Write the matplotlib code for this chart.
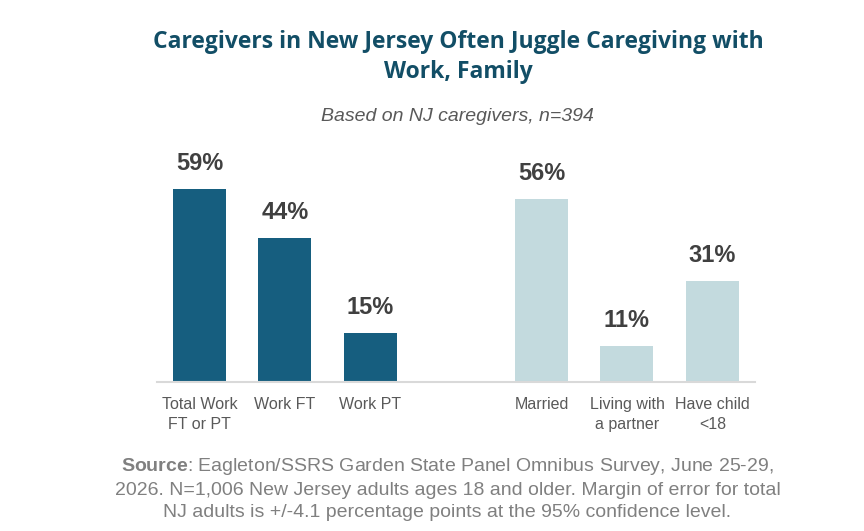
import matplotlib.pyplot as plt

# data
categories = ['Total Work\nFT or PT', 'Work FT', 'Work PT',
              'Married', 'Living with\na partner', 'Have child\n<18']
values = [59, 44, 15, 56, 11, 31]
positions = [0, 1, 2, 4, 5, 6]   # blank slot between the two groups
colors = ['#165e7f'] * 3 + ['#c3dade'] * 3

plt.rcParams['font.family'] = ['Liberation Sans', 'DejaVu Sans']
plt.rcParams['mathtext.fontset'] = 'custom'
plt.rcParams['mathtext.bf'] = 'Liberation Sans:bold'
plt.rcParams['mathtext.rm'] = 'Liberation Sans'

fig = plt.figure(figsize=(8.64, 5.31), dpi=100)
ax = fig.add_axes([0.1814, 0.2806, 0.6927, 0.4311])

ax.bar(positions, values, width=0.62, color=colors)
for x, v in zip(positions, values):
    ax.annotate(f'{v}%', (x, v), xytext=(0, 10), textcoords='offset points',
                ha='center', va='bottom', fontsize=17, fontweight='bold',
                color='#404040')

ax.set_xlim(-0.5, 6.5)
ax.set_ylim(0, 70)
ax.set_xticks(positions)
ax.set_xticklabels(categories, fontsize=11.5, color='#595959', linespacing=1.4)
ax.tick_params(axis='x', length=0, pad=11)
ax.set_yticks([])
for s in ['top', 'right', 'left']:
    ax.spines[s].set_visible(False)
ax.spines['bottom'].set_color('#d9d9d9')
ax.spines['bottom'].set_linewidth(1.5)

fig.text(0.530, 0.893, 'Caregivers in New Jersey Often Juggle Caregiving with\nWork, Family',
         ha='center', va='center', fontsize=16.5, fontweight='bold',
         color='#124e66', linespacing=1.3, family=['Open Sans', 'DejaVu Sans'])
fig.text(0.530, 0.780, 'Based on NJ caregivers, n=394', ha='center', va='center',
         fontsize=14, style='italic', color='#595959')

fig.text(0.518, 0.080,
         r'$\bf{Source}$: Eagleton/SSRS Garden State Panel Omnibus Survey, June 25-29,' '\n'
         '2026. N=1,006 New Jersey adults ages 18 and older. Margin of error for total\n'
         'NJ adults is +/-4.1 percentage points at the 95% confidence level.',
         ha='center', va='center', fontsize=14, color='#808080', linespacing=1.35)

fig.savefig('out.png', dpi=100)
